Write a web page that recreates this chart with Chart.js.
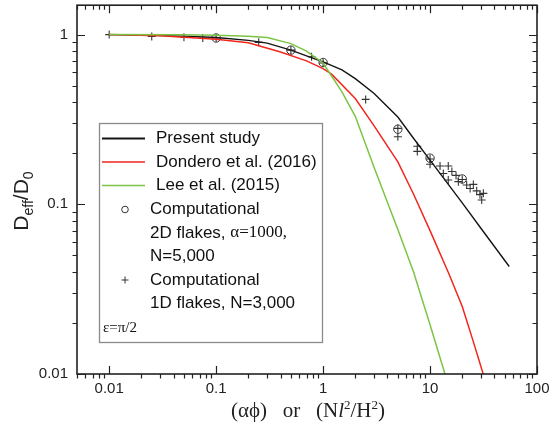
<!DOCTYPE html>
<html><head><meta charset="utf-8">
<script src="https://cdn.jsdelivr.net/npm/chart.js@4/dist/chart.umd.min.js"></script>
<style>html,body{margin:0;padding:0;background:#fff}#wrap{width:552px;height:429px}</style>
</head><body><div id="wrap"><canvas id="c" width="552" height="429"></canvas></div>
<script>
// ---- data ----
const presentX = [0.01,0.025,0.05,0.1,0.2,0.3,0.5,0.7,1,1.5,2,3,5,7,10,20,30,55];
const presentY = [1.0,0.99,0.98,0.962,0.925,0.89,0.81,0.75,0.69,0.62,0.55,0.45,0.327,0.245,0.182,0.102,0.072,0.043];
const donderoX = [0.01,0.03,0.1,0.2,0.4,0.7,1,1.2,2,3,5,7,10,15,20,25,34];
const donderoY = [1.0,0.985,0.94,0.895,0.79,0.70,0.63,0.585,0.42,0.29,0.178,0.115,0.07,0.039,0.025,0.016,0.0085];
const leeX = [0.01,0.05,0.1,0.2,0.3,0.5,0.7,1,1.2,1.5,2,3,5,7,10,15];
const leeY = [1.0,0.997,0.99,0.978,0.96,0.885,0.8,0.68,0.57,0.46,0.33,0.165,0.071,0.04,0.0195,0.0084];
const flakes2DX = [0.1,0.5,1,5,10,20];
const flakes2DY = [0.955,0.81,0.685,0.277,0.187,0.141];
const flakes1DX = [0.01,0.025,0.05,0.075,0.1,0.25,0.5,0.78,1,2.5,5,5,7.6,7.6,10,10,12.4,13.3,14.8,14.8,16,17.5,18.4,20,22,23.7,25.4,27.3,29.3,30.4,31.5];
const flakes1DY = [1.0,0.975,0.965,0.955,0.955,0.90,0.81,0.74,0.68,0.415,0.28,0.25,0.22,0.205,0.185,0.172,0.168,0.152,0.168,0.139,0.156,0.148,0.136,0.14,0.13,0.124,0.131,0.12,0.114,0.106,0.116];
const xTickValues = [0.01,0.1,1,10,100];
const yTickValues = [0.01,0.1,1];
const seriesNames = ['Present study','Dondero et al. (2016)','Lee et al. (2015)'];
const marker2DLines = ['Computational','2D flakes, ','α=1000,','N=5,000'];
const marker1DLines = ['Computational','1D flakes, N=3,000'];
const noteText = 'ε=π/2';
const xTitleParts = ['(αϕ)   or   (N','l','2','/H','2',')'];
const yTitleParts = ['D','eff','/D','0'];

const C_BLACK = '#151515', C_RED = '#f2261c', C_GREEN = '#7cc444';
const pts = (xs, ys) => xs.map((x, i) => ({x, y: ys[i]}));
const X_MIN = 0.005, X_MAX = 100, Y_MIN = 0.01, Y_MAX = 1.49;

function logTicks(min, max){
  const out = [];
  for (let e = Math.floor(Math.log10(min)); e <= Math.ceil(Math.log10(max)); e++){
    for (let m = 1; m <= 9; m++){
      const v = m * Math.pow(10, e);
      if (v >= min*0.999 && v <= max*1.001) out.push({v, major: m === 1});
    }
  }
  return out;
}

const decorPlugin = {
  id: 'decor',
  afterDraw(chart){
    const {ctx, chartArea: a, scales: {x, y}} = chart;
    ctx.save();
    ctx.strokeStyle = '#222'; ctx.lineWidth = 1.6;
    ctx.strokeRect(a.left, a.top, a.right - a.left, a.bottom - a.top);
    ctx.lineWidth = 1.2;
    const MAJ = 8, MIN = 4.5;
    for (const t of logTicks(X_MIN, X_MAX)){
      const px = Math.round(x.getPixelForValue(t.v)) + 0.5;
      ctx.beginPath();
      if (t.major){ ctx.moveTo(px, a.bottom); ctx.lineTo(px, a.bottom - MAJ); ctx.moveTo(px, a.top); ctx.lineTo(px, a.top + MAJ); }
      else { ctx.moveTo(px, a.bottom); ctx.lineTo(px, a.bottom + MIN); ctx.moveTo(px, a.top); ctx.lineTo(px, a.top + MIN); }
      ctx.stroke();
    }
    for (const t of logTicks(Y_MIN, Y_MAX)){
      const py = Math.round(y.getPixelForValue(t.v)) + 0.5;
      ctx.beginPath();
      if (t.major){ ctx.moveTo(a.left, py); ctx.lineTo(a.left + MAJ, py); ctx.moveTo(a.right, py); ctx.lineTo(a.right - MAJ, py); }
      else { ctx.moveTo(a.left, py); ctx.lineTo(a.left - MIN, py); ctx.moveTo(a.right, py); ctx.lineTo(a.right - MIN, py); }
      ctx.stroke();
    }
    // legend box
    const L = 99, T = 123, R = 322, B = 342;
    ctx.fillStyle = '#fff'; ctx.fillRect(L, T, R - L, B - T);
    ctx.strokeStyle = '#8a8a8a'; ctx.lineWidth = 1.3; ctx.strokeRect(L + 0.5, T + 0.5, R - L, B - T);
    const sans = '17px "Liberation Sans", Arial, sans-serif';
    const serif = '17px "Liberation Serif", "Times New Roman", serif';
    ctx.textBaseline = 'middle'; ctx.textAlign = 'left'; ctx.fillStyle = '#111';
    const rowY = [138.5, 162, 185.5, 209.5, 233, 256.5, 280, 303.5, 328.5];
    const cols = [C_BLACK, C_RED, C_GREEN];
    for (let i = 0; i < 3; i++){
      ctx.strokeStyle = cols[i]; ctx.lineWidth = i === 0 ? 2 : 1.5;
      ctx.beginPath(); ctx.moveTo(102, rowY[i]); ctx.lineTo(145, rowY[i]); ctx.stroke();
      ctx.font = sans; ctx.fillText(seriesNames[i], 156, rowY[i]);
    }
    ctx.strokeStyle = '#333'; ctx.lineWidth = 1;
    ctx.beginPath(); ctx.arc(125, rowY[3], 3.3, 0, Math.PI*2); ctx.stroke();
    ctx.font = sans; ctx.fillText(marker2DLines[0], 150, rowY[3]);
    ctx.fillText(marker2DLines[1], 150, rowY[4]);
    const w1 = ctx.measureText(marker2DLines[1]).width;
    ctx.font = serif; ctx.fillText(marker2DLines[2], 150 + w1, rowY[4]);
    ctx.font = sans; ctx.fillText(marker2DLines[3], 150, rowY[5]);
    ctx.beginPath(); ctx.moveTo(121.5, rowY[6]); ctx.lineTo(128.5, rowY[6]); ctx.moveTo(125, rowY[6]-3.5); ctx.lineTo(125, rowY[6]+3.5); ctx.stroke();
    ctx.fillText(marker1DLines[0], 150, rowY[6]);
    ctx.fillText(marker1DLines[1], 150, rowY[7]);
    ctx.font = '15px "Liberation Serif", "Times New Roman", serif';
    ctx.fillText(noteText, 103, rowY[8]);

    // x title
    ctx.fillStyle = '#222'; ctx.textBaseline = 'alphabetic';
    const big = 21, small = 13;
    const fBig = big + 'px "Liberation Serif", serif', fIt = 'italic ' + big + 'px "Liberation Serif", serif', fSm = small + 'px "Liberation Serif", serif';
    const segs = [[xTitleParts[0], fBig, 0],[xTitleParts[1], fIt, 0],[xTitleParts[2], fSm, -8],[xTitleParts[3], fBig, 0],[xTitleParts[4], fSm, -8],[xTitleParts[5], fBig, 0]];
    let tw = 0; for (const s of segs){ ctx.font = s[1]; tw += ctx.measureText(s[0]).width; }
    let cx = 308 - tw/2; const by = 417;
    for (const s of segs){ ctx.font = s[1]; ctx.fillText(s[0], cx, by + s[2]); cx += ctx.measureText(s[0]).width; }

    // y title (rotated)
    ctx.save();
    ctx.translate(28, 201); ctx.rotate(-Math.PI/2);
    const ys = [[yTitleParts[0], '21px "Liberation Sans", sans-serif', 0],[yTitleParts[1], '14px "Liberation Sans", sans-serif', 5],[yTitleParts[2], '21px "Liberation Sans", sans-serif', 0],[yTitleParts[3], '14px "Liberation Sans", sans-serif', 5]];
    let yw = 0; for (const s of ys){ ctx.font = s[1]; yw += ctx.measureText(s[0]).width; }
    let yx = -yw/2;
    for (const s of ys){ ctx.font = s[1]; ctx.fillText(s[0], yx, s[2]); yx += ctx.measureText(s[0]).width; }
    ctx.restore();
    ctx.restore();
  }
};

const lineDs = (label, xs, ys, color, w) => ({label, data: pts(xs, ys), borderColor: color, backgroundColor: color, borderWidth: w, pointRadius: 0, showLine: true, tension: 0, fill: false});

new Chart(document.getElementById('c'), {
  type: 'scatter',
  data: {
    datasets: [
      lineDs(seriesNames[2], leeX, leeY, C_GREEN, 1.5),
      lineDs(seriesNames[1], donderoX, donderoY, C_RED, 1.5),
      lineDs(seriesNames[0], presentX, presentY, C_BLACK, 1.4),
      {label: 'Computational 2D', data: pts(flakes2DX, flakes2DY), pointStyle: 'circle', pointRadius: 4.2, borderColor: '#333', borderWidth: 1, backgroundColor: 'rgba(0,0,0,0)', showLine: false},
      {label: 'Computational 1D', data: pts(flakes1DX, flakes1DY), pointStyle: 'cross', pointRadius: 4, borderColor: '#333', borderWidth: 1.1, showLine: false}
    ]
  },
  options: {
    responsive: false, animation: false, devicePixelRatio: 1,
    layout: {padding: {top: 5, right: 15, left: 0, bottom: 0}},
    plugins: {legend: {display: false}, tooltip: {enabled: false}},
    scales: {
      x: {
        type: 'logarithmic', min: X_MIN, max: X_MAX, position: 'bottom',
        afterFit: s => { s.height = 55; s.paddingLeft = 0; s.paddingRight = 0; },
        afterBuildTicks: s => { s.ticks = xTickValues.map(v => ({value: v})); },
        ticks: {callback: v => String(v), font: {family: '"Liberation Sans", Arial, sans-serif', size: 15}, color: '#222', padding: 6, maxRotation: 0, autoSkip: false},
        grid: {display: false, drawTicks: false}, border: {display: false}
      },
      y: {
        type: 'logarithmic', min: Y_MIN, max: Y_MAX,
        afterFit: s => { s.width = 77; s.paddingTop = 0; s.paddingBottom = 0; },
        afterBuildTicks: s => { s.ticks = yTickValues.map(v => ({value: v})); },
        ticks: {callback: v => String(v), font: {family: '"Liberation Sans", Arial, sans-serif', size: 15}, color: '#222', padding: 9, autoSkip: false},
        grid: {display: false, drawTicks: false}, border: {display: false}
      }
    }
  },
  plugins: [decorPlugin]
});
</script>
</body></html>
